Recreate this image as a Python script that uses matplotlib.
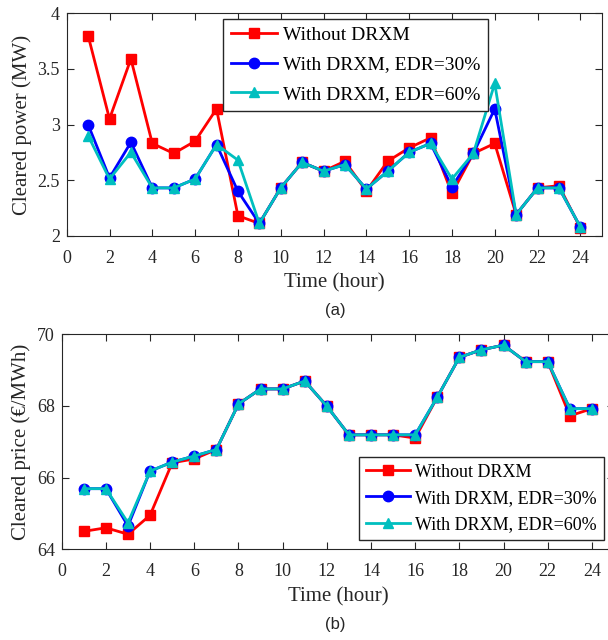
import numpy as np
import matplotlib
matplotlib.use("Agg")
import matplotlib.pyplot as plt

plt.rcParams['font.family'] = ['Liberation Serif', 'DejaVu Serif']

hours = np.arange(1, 25)

# cleared power (MW)
power_without = [3.80, 3.05, 3.59, 2.83, 2.74, 2.85, 3.14, 2.18, 2.11, 2.43, 2.66, 2.58,
                 2.67, 2.40, 2.67, 2.79, 2.88, 2.38, 2.74, 2.83, 2.19, 2.43, 2.45, 2.07]
power_edr30 = [3.00, 2.52, 2.84, 2.43, 2.43, 2.51, 2.82, 2.40, 2.11, 2.43, 2.66, 2.58,
               2.64, 2.42, 2.58, 2.75, 2.83, 2.44, 2.74, 3.14, 2.19, 2.43, 2.43, 2.08]
power_edr60 = [2.90, 2.51, 2.75, 2.43, 2.43, 2.51, 2.82, 2.68, 2.11, 2.43, 2.66, 2.58,
               2.64, 2.42, 2.58, 2.75, 2.83, 2.51, 2.74, 3.37, 2.19, 2.43, 2.43, 2.08]

# cleared price (EUR/MWh)
price_without = [64.50, 64.60, 64.42, 64.95, 66.41, 66.52, 66.78, 68.05, 68.47, 68.47, 68.69, 67.99,
                 67.19, 67.19, 67.19, 67.10, 68.24, 69.35, 69.56, 69.69, 69.23, 69.23, 67.72, 67.92]
price_edr30 = [65.69, 65.69, 64.65, 66.18, 66.43, 66.60, 66.78, 68.05, 68.47, 68.47, 68.69, 67.99,
               67.19, 67.19, 67.19, 67.19, 68.24, 69.35, 69.56, 69.69, 69.23, 69.23, 67.92, 67.92]
price_edr60 = [65.69, 65.69, 64.74, 66.18, 66.43, 66.60, 66.78, 68.05, 68.47, 68.47, 68.69, 67.99,
               67.19, 67.19, 67.19, 67.19, 68.24, 69.35, 69.56, 69.69, 69.23, 69.23, 67.92, 67.92]

labels = ["Without DRXM", "With DRXM, EDR=30%", "With DRXM, EDR=60%"]
colors = ['#ff0000', '#0000ff', '#00bfbf']
markers = ['s', 'o', '^']

fig = plt.figure(figsize=(6.08, 6.4), dpi=100)
ax1 = fig.add_axes([0.1097, 0.6317, 0.880, 0.3475])
ax2 = fig.add_axes([0.1015, 0.1417, 0.9084, 0.3364])

def style(ax):
    ax.set_xlim(0, 25)
    ax.set_xticks(np.arange(0, 25, 2))
    ax.tick_params(direction='in', top=True, right=True, labelsize=13, length=5, color='#262626')
    ax.tick_params(axis='x', pad=10)
    ax.tick_params(axis='y', pad=5)
    for s in ax.spines.values():
        s.set_color('#262626')
    for t in ax.get_xticklabels() + ax.get_yticklabels():
        t.set_color('#262626')
    ax.set_xlabel("Time (hour)", fontsize=15, color='#262626', labelpad=5)

for ys, c, m, lab in zip([power_without, power_edr30, power_edr60], colors, markers, labels):
    ax1.plot(hours, ys, color=c, marker=m, markersize=7.5, linewidth=2, label=lab)
ax1.set_ylim(2, 4)
ax1.set_yticks([2, 2.5, 3, 3.5, 4])
ax1.set_yticklabels(['2', '2.5', '3', '3.5', '4'])
style(ax1)
ax1.set_ylabel("Cleared power (MW)", fontsize=15, color='#262626')
leg1 = ax1.legend(loc='upper left', bbox_to_anchor=(0.292, 0.975), fontsize=14,
                  fancybox=False, edgecolor='#262626', framealpha=1, handlelength=2.4,
                  handletextpad=0.3, borderaxespad=0, labelspacing=0.6)
leg1.get_frame().set_linewidth(1)

for ys, c, m, lab in zip([price_without, price_edr30, price_edr60], colors, markers, labels):
    ax2.plot(hours, ys, color=c, marker=m, markersize=7.5, linewidth=2, label=lab)
ax2.set_ylim(64, 70)
ax2.set_yticks([64, 66, 68, 70])
style(ax2)
ax2.set_ylabel("Cleared price (\u20ac/MWh)", fontsize=15, color='#262626')
leg2 = ax2.legend(loc='lower right', bbox_to_anchor=(0.982, 0.043), fontsize=13,
                  fancybox=False, edgecolor='#262626', framealpha=1, handlelength=2.4,
                  handletextpad=0.3, borderaxespad=0, labelspacing=0.5)
leg2.get_frame().set_linewidth(1)

fig.text(0.551, 1 - 311 / 640, "(a)", ha='center', va='center', fontsize=12,
         family='Liberation Sans', color='#262626')
fig.text(0.551, 1 - 625 / 640, "(b)", ha='center', va='center', fontsize=12,
         family='Liberation Sans', color='#262626')

fig.savefig("out.png", dpi=100)
